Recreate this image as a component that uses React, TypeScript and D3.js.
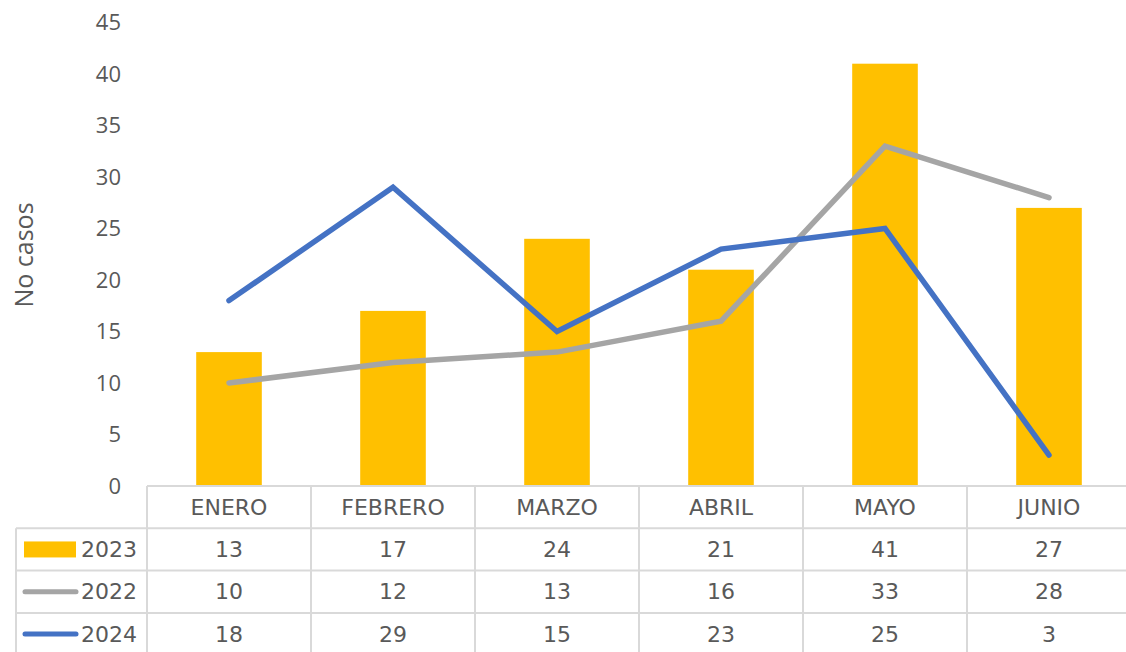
import React from "react";
import * as d3 from "d3";

const categories = ["ENERO", "FEBRERO", "MARZO", "ABRIL", "MAYO", "JUNIO"];
const values2023 = [13, 17, 24, 21, 41, 27];
const values2022 = [10, 12, 13, 16, 33, 28];
const values2024 = [18, 29, 15, 23, 25, 3];
const yTicks = [0, 5, 10, 15, 20, 25, 30, 35, 40, 45];

const series = [
  { name: "2023", values: values2023, color: "#FFC000", type: "bar" },
  { name: "2022", values: values2022, color: "#A5A5A5", type: "line" },
  { name: "2024", values: values2024, color: "#4472C4", type: "line" },
];

export default function App() {
  const W = 1126;
  const H = 652;
  const left = 147;
  const right = 1131;
  const top = 22.5;
  const bottom = 486;
  const rowH = 42.3;
  const legendLeft = 16;
  const textColor = "#595959";
  const gridColor = "#D9D9D9";
  const tickFont = "'Open Sans', 'DejaVu Sans', sans-serif";
  const tableFont = "'DejaVu Sans', sans-serif";

  const x = d3.scaleBand<string>().domain(categories).range([left, right]).paddingInner(0).paddingOuter(0);
  const y = d3.scaleLinear().domain([0, 45]).range([bottom, top]);
  const barW = x.bandwidth() * 0.4;
  const cx = (c: string) => (x(c) as number) + x.bandwidth() / 2;

  const line = d3
    .line<number>()
    .x((_, i) => cx(categories[i]))
    .y((d) => y(d));

  const rowsTop = bottom + rowH;
  const nRows = series.length;

  return (
    <svg width={W} height={H} style={{ position: "absolute", left: 0, top: 0, background: "#fff" }}>
      <text
        transform={`translate(33, 255) rotate(-90)`}
        textAnchor="middle"
        fontFamily={tickFont}
        fontSize={25}
        fill={textColor}
      >
        No casos
      </text>
      {yTicks.map((t) => (
        <text
          key={t}
          x={121}
          y={y(t)}
          dy="0.35em"
          textAnchor="end"
          fontFamily={tickFont}
          fontSize={22}
          fill={textColor}
        >
          {t}
        </text>
      ))}
      {categories.map((c, i) => (
        <rect
          key={c}
          x={cx(c) - barW / 2}
          y={y(values2023[i])}
          width={barW}
          height={bottom - y(values2023[i])}
          fill="#FFC000"
        />
      ))}
      {series
        .filter((s) => s.type === "line")
        .map((s) => (
          <path
            key={s.name}
            d={line(s.values) || ""}
            fill="none"
            stroke={s.color}
            strokeWidth={5.5}
            strokeLinecap="round"
            strokeLinejoin="miter"
          />
        ))}
      <g stroke={gridColor} strokeWidth={2} fill="none">
        <line x1={left} x2={right} y1={bottom} y2={bottom} />
        {d3.range(nRows + 1).map((r) => (
          <line key={r} x1={legendLeft} x2={right} y1={rowsTop + r * rowH} y2={rowsTop + r * rowH} />
        ))}
        <line x1={legendLeft} x2={legendLeft} y1={rowsTop} y2={H + 5} />
        {categories.map((c) => (
          <line key={c} x1={x(c) as number} x2={x(c) as number} y1={bottom} y2={H + 5} />
        ))}
        <line x1={right} x2={right} y1={bottom} y2={H + 5} />
      </g>
      {categories.map((c) => (
        <text
          key={c}
          x={cx(c)}
          y={bottom + rowH / 2}
          dy="0.35em"
          textAnchor="middle"
          fontFamily={tableFont}
          fontSize={22}
          fill={textColor}
        >
          {c}
        </text>
      ))}
      {series.map((s, r) => {
        const yc = rowsTop + r * rowH + rowH / 2;
        return (
          <g key={s.name}>
            {s.type === "bar" ? (
              <rect x={24} y={yc - 8} width={52} height={16} fill={s.color} />
            ) : (
              <line x1={25} x2={76} y1={yc} y2={yc} stroke={s.color} strokeWidth={5} strokeLinecap="round" />
            )}
            <text x={81} y={yc} dy="0.35em" fontFamily={tableFont} fontSize={22} fill={textColor}>
              {s.name}
            </text>
            {s.values.map((v, i) => (
              <text
                key={i}
                x={cx(categories[i])}
                y={yc}
                dy="0.35em"
                textAnchor="middle"
                fontFamily={tableFont}
                fontSize={22}
                fill={textColor}
              >
                {v}
              </text>
            ))}
          </g>
        );
      })}
    </svg>
  );
}
